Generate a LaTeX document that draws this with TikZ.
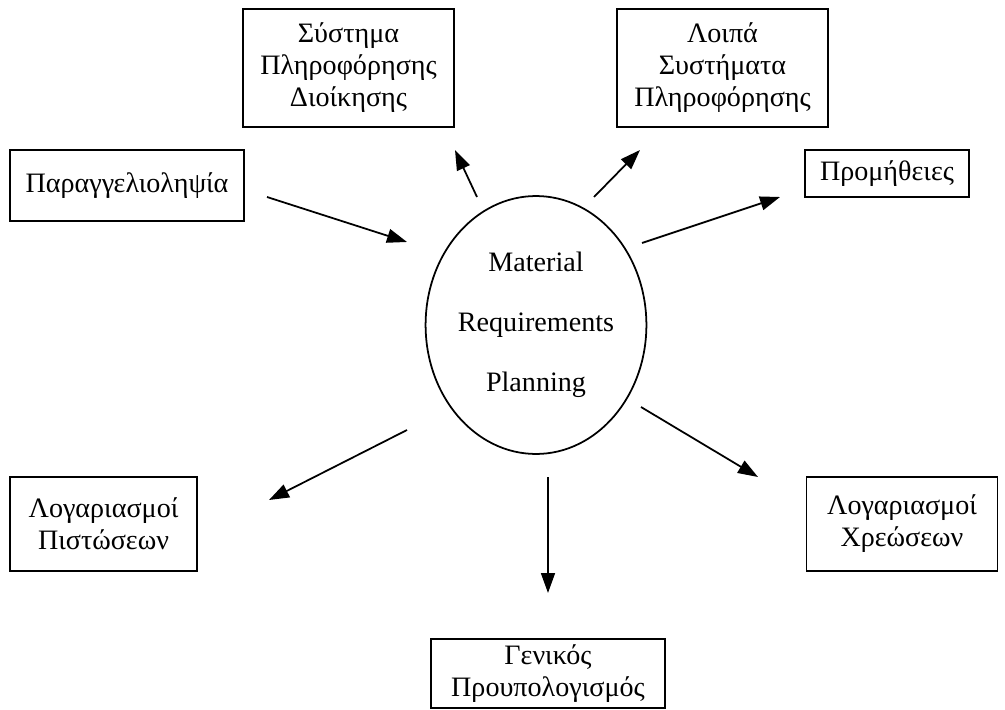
\documentclass[tikz,border=0pt]{standalone}
\usepackage{fontspec}
\setmainfont{Liberation Serif}
\usetikzlibrary{arrows.meta}
\usetikzlibrary{shapes.geometric}

\tikzset{
  box/.style={draw, line width=1pt, align=center, inner sep=0pt,
    font=\fontsize{16}{18.2}\selectfont},
  flow/.style={line width=1pt, -{Triangle[length=0.4cm, width=0.28cm]}}
}

\begin{document}
\begin{tikzpicture}[x=0.02cm, y=-0.02cm]
      % \draw[line width=0.1mm, color=black] (0,0) grid[step=50] (1005,710);
      \useasboundingbox (0,0) rectangle (1005,710);

      \node[box, minimum width=4.22cm, minimum height=2.36cm] (spd) at (348.5,68)
        {Σύστημα\\Πληροφόρησης\\Διοίκησης};
      \node[box, minimum width=4.22cm, minimum height=2.36cm] (loipa) at (722.5,68)
        {Λοιπά\\Συστήματα\\Πληροφόρησης};
      \node[box, minimum width=4.68cm, minimum height=1.42cm] (parag) at (127,185.5)
        {Παραγγελιοληψία};
      \node[box, minimum width=3.28cm, minimum height=0.94cm] (prom) at (887,173.5)
        {Προμήθειες};
      \node[box, minimum width=3.74cm, minimum height=1.88cm] (pist) at (103.5,524)
        {Λογαριασμοί\\Πιστώσεων};
      \node[box, minimum width=3.82cm, minimum height=1.88cm] (xrew) at (902,524)
        {Λογαριασμοί\\Χρεώσεων};
      \node[box, minimum width=4.68cm, minimum height=1.38cm] (gen) at (548,673.5)
        {Γενικός\\Προυπολογισμός};

      \node[ellipse, draw, line width=1pt, inner sep=0pt, align=center,
        minimum width=4.2cm, minimum height=5.16cm,
        font=\fontsize{16}{34}\selectfont] (mrp) at (536,325)
        {Material\\Requirements\\Planning};

      % arrow ends
      \coordinate (p1) at (267,197);  \coordinate (p2) at (407,242);
      \coordinate (s1) at (477,197);  \coordinate (s2) at (455,150);
      \coordinate (l1) at (594,197);  \coordinate (l2) at (640,150);
      \coordinate (m1) at (642,243);  \coordinate (m2) at (780,197);
      \coordinate (c1) at (407,430);  \coordinate (c2) at (269,500);
      \coordinate (g1) at (548,477);  \coordinate (g2) at (548,593);
      \coordinate (d1) at (641,407);  \coordinate (d2) at (758,477);

      \draw[flow] (p1) -- (p2);
      \draw[flow] (s1) -- (s2);
      \draw[flow] (l1) -- (l2);
      \draw[flow] (m1) -- (m2);
      \draw[flow] (c1) -- (c2);
      \draw[flow] (g1) -- (g2);
      \draw[flow] (d1) -- (d2);

\end{tikzpicture}
\end{document}
